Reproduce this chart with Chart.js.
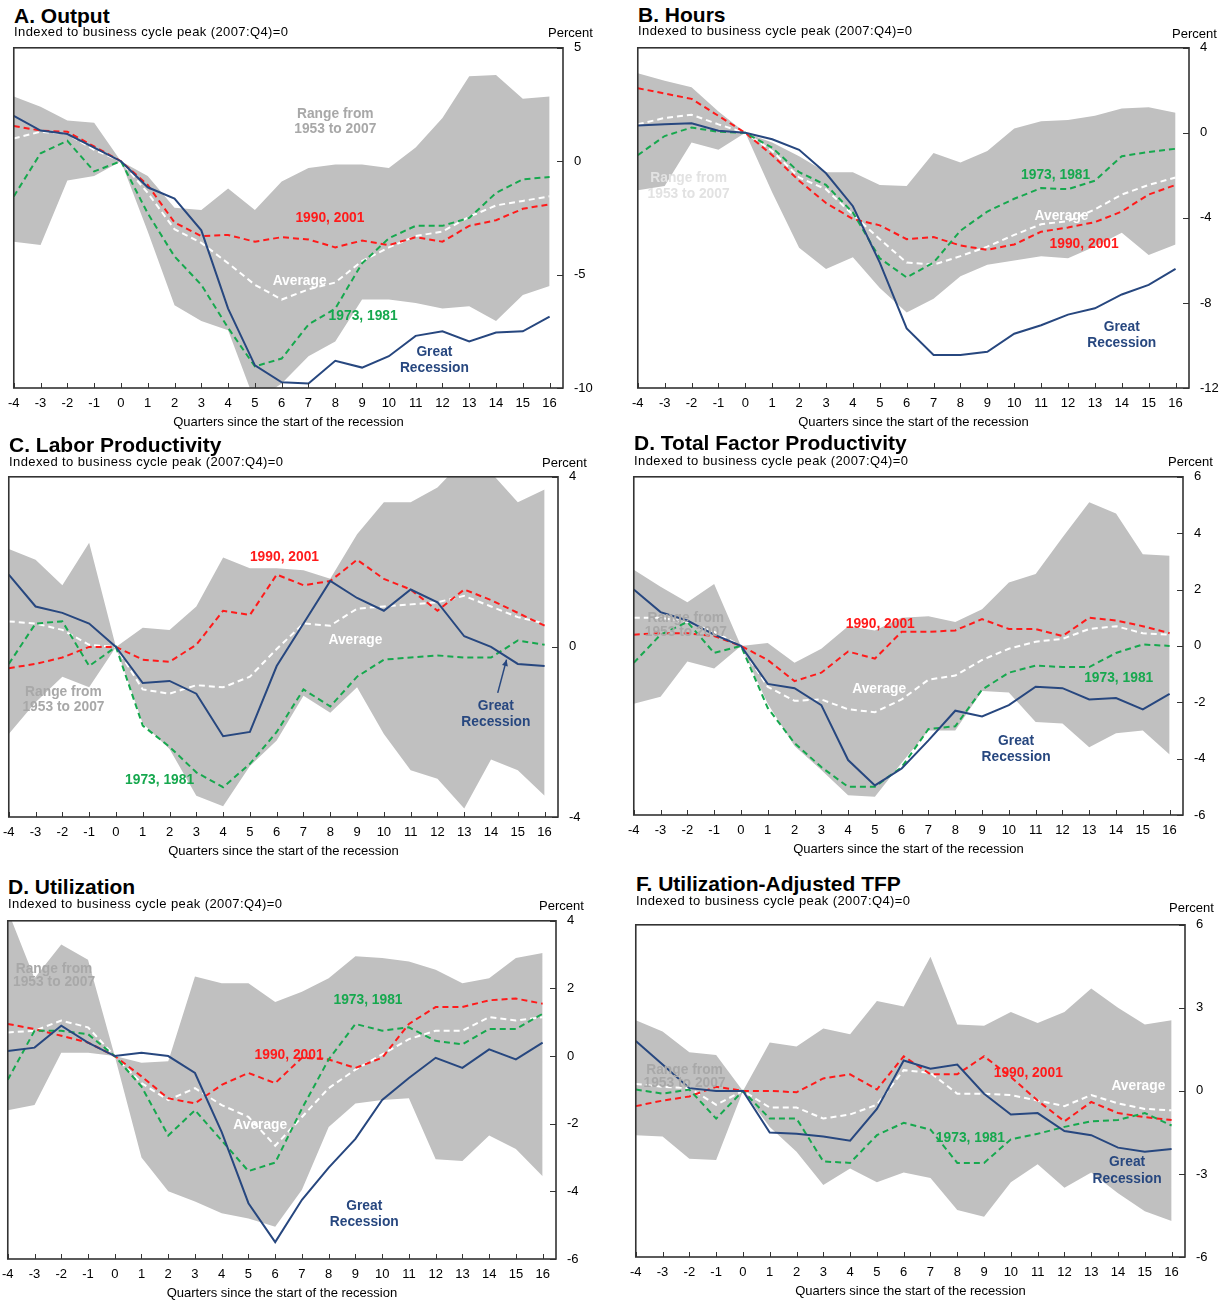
<!DOCTYPE html>
<html>
<head>
<meta charset="utf-8">
<script src="https://cdn.jsdelivr.net/npm/chart.js@4.4.0/dist/chart.umd.min.js"></script>
<style>
  body { margin: 0; background: #fff; width: 1229px; height: 1301px; position: relative; overflow: hidden;
         font-family: "Liberation Sans", Arial, sans-serif; }
  .t { position: absolute; white-space: nowrap; color: #000; }
  .title { font-weight: bold; font-size: 21px; line-height: 22px; }
  .sub { font-size: 13px; line-height: 14px; letter-spacing: 0.4px; }
  .pct { font-size: 13px; line-height: 14px; }
  canvas { position: absolute; }
</style>
</head>
<body>
<script>
// x axis: quarters since the start of the recession
const quarters = [-4, -3, -2, -1, 0, 1, 2, 3, 4, 5, 6, 7, 8, 9, 10, 11, 12, 13, 14, 15, 16];

// A. Output
const outputTicks = [-10, -5, 0, 5];
const outputGreat = [2.0, 1.35, 1.2, 0.6, 0, -1.15, -1.65, -3.05, -6.5, -9.0, -9.75, -9.8, -8.8, -9.1, -8.6, -7.7, -7.5, -7.95, -7.55, -7.5, -6.85];
const output9001 = [1.55, 1.35, 1.3, 0.65, 0, -1.05, -2.7, -3.3, -3.25, -3.55, -3.35, -3.45, -3.8, -3.5, -3.7, -3.35, -3.55, -2.85, -2.6, -2.1, -1.9];
const output7381 = [-1.55, 0.35, 0.9, -0.45, 0, -2.3, -4.2, -5.45, -7.35, -9.05, -8.7, -7.2, -6.5, -4.5, -3.4, -2.85, -2.85, -2.5, -1.4, -0.8, -0.7];
const outputAvg = [1.0, 1.3, 1.2, 0.5, 0, -1.4, -3.0, -3.6, -4.5, -5.45, -6.1, -5.65, -5.35, -4.4, -3.8, -3.3, -3.1, -2.45, -1.95, -1.75, -1.55];
const outputHigh = [2.85, 2.4, 1.8, 1.7, 0, -0.65, -2.05, -2.15, -1.2, -2.15, -0.9, -0.3, -0.15, -0.15, -0.3, 0.6, 1.9, 3.75, 3.8, 2.75, 2.85];
const outputLow = [-3.55, -3.7, -0.85, -0.65, 0, -3.1, -6.35, -7.05, -7.45, -10.6, -9.8, -8.6, -7.95, -6.1, -6.1, -6.25, -6.5, -6.4, -7.05, -5.9, -5.5];

// B. Hours
const hoursTicks = [-12, -8, -4, 0, 4];
const hoursGreat = [0.35, 0.4, 0.45, 0.1, 0, -0.3, -0.8, -1.9, -3.45, -6.1, -9.2, -10.45, -10.45, -10.3, -9.45, -9.05, -8.55, -8.25, -7.6, -7.15, -6.4];
const hours9001 = [2.1, 1.85, 1.6, 0.8, 0, -1.05, -2.25, -3.3, -4.05, -4.35, -5.0, -4.9, -5.3, -5.5, -5.25, -4.65, -4.45, -4.2, -3.7, -2.9, -2.45];
const hours7381 = [-1.05, -0.15, 0.25, 0.05, 0, -0.7, -1.85, -2.45, -3.75, -5.9, -6.8, -6.1, -4.6, -3.7, -3.1, -2.6, -2.65, -2.25, -1.1, -0.9, -0.75];
const hoursAvg = [0.4, 0.7, 0.85, 0.4, 0, -0.85, -2.1, -2.65, -3.85, -5.0, -6.1, -6.2, -5.8, -5.35, -4.8, -4.3, -4.15, -3.6, -2.9, -2.45, -2.1];
const hoursHigh = [2.8, 2.45, 2.15, 1.0, 0, -0.45, -1.1, -1.85, -1.85, -2.45, -2.5, -0.95, -1.4, -0.85, 0.2, 0.55, 0.6, 0.8, 1.15, 1.2, 0.95];
const hoursLow = [-2.7, -2.5, -0.45, -0.8, 0, -2.8, -5.4, -6.4, -5.85, -7.3, -8.45, -7.8, -6.75, -6.2, -6.0, -5.8, -5.9, -5.35, -4.7, -5.75, -5.25];

// C. Labor productivity
const lpTicks = [-4, 0, 4];
const lpGreat = [1.7, 0.95, 0.8, 0.55, 0, -0.85, -0.8, -1.1, -2.1, -2.0, -0.45, 0.55, 1.55, 1.15, 0.85, 1.35, 1.05, 0.25, 0.0, -0.4, -0.45];
const lp9001 = [-0.5, -0.4, -0.25, 0, 0, -0.3, -0.35, 0.05, 0.85, 0.75, 1.7, 1.45, 1.55, 2.05, 1.6, 1.35, 0.85, 1.35, 1.1, 0.8, 0.5];
const lp7381 = [-0.4, 0.55, 0.6, -0.45, 0, -1.85, -2.35, -2.95, -3.3, -2.75, -2.0, -1.0, -1.4, -0.7, -0.3, -0.25, -0.2, -0.25, -0.25, 0.15, 0.05];
const lpAvg = [0.6, 0.55, 0.4, 0.05, 0, -1.0, -1.1, -0.9, -0.95, -0.7, -0.05, 0.55, 0.5, 0.9, 0.95, 1.0, 1.05, 1.2, 0.95, 0.7, 0.55];
const lpHigh = [2.3, 2.05, 1.45, 2.45, 0, 0.45, 0.4, 0.95, 2.1, 1.85, 1.85, 1.8, 1.6, 2.65, 3.4, 3.4, 3.75, 4.4, 4.1, 3.4, 3.7];
const lpLow = [-2.05, -1.3, -0.7, -0.95, 0, -1.8, -2.4, -3.5, -3.75, -2.8, -2.2, -1.15, -1.55, -0.95, -2.05, -2.9, -3.1, -3.8, -2.65, -2.9, -3.5];

// D. Total factor productivity
const tfpTicks = [-6, -4, -2, 0, 2, 4, 6];
const tfpGreat = [2.0, 1.2, 0.9, 0.4, 0, -1.35, -1.5, -2.1, -4.05, -4.95, -4.35, -3.35, -2.3, -2.5, -2.1, -1.45, -1.5, -1.9, -1.85, -2.25, -1.7];
const tfp9001 = [0.4, 0.45, 0.45, 0.35, 0, -0.5, -1.25, -0.95, -0.2, -0.45, 0.5, 0.5, 0.55, 0.95, 0.6, 0.6, 0.35, 1.0, 0.9, 0.7, 0.45];
const tfp7381 = [-0.6, 0.4, 0.85, -0.25, 0, -2.2, -3.45, -4.3, -5.0, -5.0, -4.3, -2.95, -2.85, -1.55, -0.95, -0.7, -0.75, -0.75, -0.25, 0.05, 0.0];
const tfpAvg = [1.0, 1.0, 0.85, 0.5, 0, -1.45, -1.95, -1.9, -2.25, -2.35, -1.9, -1.2, -1.05, -0.5, -0.1, 0.15, 0.25, 0.6, 0.7, 0.45, 0.4];
const tfpHigh = [2.7, 2.1, 1.55, 2.2, 0, 0.1, -0.6, -0.1, 0.7, 0.55, 1.0, 1.05, 0.85, 1.3, 2.25, 2.55, 3.85, 5.1, 4.7, 3.25, 3.2];
const tfpLow = [-2.05, -1.8, -0.55, -0.8, 0, -2.05, -3.55, -4.4, -5.3, -5.35, -4.15, -3.0, -3.0, -1.6, -1.65, -2.7, -2.75, -3.6, -3.1, -3.0, -3.85];

// E. Utilization
const utilTicks = [-6, -4, -2, 0, 2, 4];
const utilGreat = [0.15, 0.25, 0.9, 0.4, 0, 0.1, 0, -0.5, -2.25, -4.35, -5.5, -4.25, -3.3, -2.45, -1.3, -0.65, -0.05, -0.35, 0.2, -0.1, 0.4];
const util9001 = [0.95, 0.8, 0.6, 0.4, 0, -0.6, -1.25, -1.4, -0.85, -0.5, -0.8, -0.05, -0.1, -0.35, -0.05, 0.95, 1.45, 1.45, 1.65, 1.7, 1.55];
const util7381 = [-0.7, 0.75, 0.75, 0.65, 0, -0.9, -2.35, -1.6, -2.5, -3.4, -3.15, -1.55, -0.1, 0.95, 0.75, 0.85, 0.45, 0.35, 0.8, 0.8, 1.25];
const utilAvg = [0.7, 0.75, 1.05, 0.85, 0, -0.8, -1.3, -0.95, -1.45, -1.8, -2.65, -1.8, -0.95, -0.4, 0.05, 0.5, 0.75, 0.75, 1.15, 1.05, 1.15];
const utilHigh = [4.3, 2.3, 3.3, 2.85, 0, -0.2, -0.15, 2.35, 2.15, 2.15, 1.6, 1.9, 2.3, 2.95, 2.9, 2.8, 2.55, 2.15, 2.3, 2.9, 3.05];
const utilLow = [-1.6, -1.45, 0.1, 0.1, 0, -3.0, -4.0, -4.3, -4.65, -4.8, -5.05, -3.95, -2.1, -1.4, -1.3, -1.25, -3.05, -3.1, -2.35, -2.75, -3.55];

// F. Utilization-adjusted TFP
const uTfpTicks = [-6, -3, 0, 3, 6];
const uTfpGreat = [1.8, 0.95, 0.1, 0.0, 0, -1.5, -1.55, -1.65, -1.8, -0.65, 1.1, 0.8, 0.95, -0.1, -0.85, -0.8, -1.45, -1.6, -2.05, -2.2, -2.1];
const uTfp9001 = [-0.55, -0.35, -0.2, 0.15, 0, 0, -0.05, 0.45, 0.6, 0.05, 1.25, 0.6, 0.6, 1.25, 0.5, -0.35, -1.1, -0.4, -0.8, -0.95, -1.05];
const uTfp7381 = [0.05, -0.1, 0.05, -1.0, 0, -1.0, -1.0, -2.55, -2.6, -1.6, -1.15, -1.4, -2.6, -2.6, -1.75, -1.55, -1.3, -1.1, -1.05, -0.8, -1.25];
const uTfpAvg = [0.25, 0.15, 0.1, -0.5, 0, -0.6, -0.6, -1.0, -0.85, -0.5, 0.75, 0.65, -0.1, -0.1, -0.15, -0.35, -0.55, -0.15, -0.45, -0.65, -0.7];
const uTfpHigh = [2.55, 2.15, 1.4, 1.3, 0, 1.75, 1.6, 2.25, 2.05, 3.25, 3.05, 4.85, 2.4, 2.35, 2.85, 2.45, 2.85, 3.7, 3.0, 2.4, 2.55];
const uTfpLow = [-1.6, -1.65, -2.45, -2.5, 0, -1.3, -2.2, -3.4, -2.8, -3.3, -2.95, -3.15, -4.3, -4.55, -3.3, -2.65, -3.5, -2.95, -3.7, -4.35, -4.7];

const FONT = '"Liberation Sans", Arial, sans-serif';
const NAVY = '#27477f';
const RED = '#ff1a1a';
const GREEN = '#16a84e';
const BAND = '#c0c0c0';
const RANGE_TXT = '#a8a8a8';

const panels = [
  { title: 'A. Output', L: 14, R: 563, T: 48, B: 388, titleY: 16, subY: 32, pctX: 548, pctY: 33,
    ticks: outputTicks, great: outputGreat, r: output9001, g: output7381, avg: outputAvg, hi: outputHigh, lo: outputLow,
    notes: [
      ['Range from', 8.0, 2.1, RANGE_TXT], ['1953 to 2007', 8.0, 1.43, RANGE_TXT],
      ['1990, 2001', 7.8, -2.5, RED], ['Average', 6.67, -5.27, '#fff'], ['1973, 1981', 9.04, -6.84, GREEN],
      ['Great', 11.7, -8.4, NAVY], ['Recession', 11.7, -9.1, NAVY]] },
  { title: 'B. Hours', L: 638, R: 1189, T: 48, B: 388, titleY: 15, subY: 31, pctX: 1172, pctY: 34,
    ticks: hoursTicks, great: hoursGreat, r: hours9001, g: hours7381, avg: hoursAvg, hi: hoursHigh, lo: hoursLow,
    notes: [
      ['Range from', -2.11, -2.12, '#e2e2e2'], ['1953 to 2007', -2.11, -2.87, '#e2e2e2'],
      ['1973, 1981', 11.54, -1.96, GREEN], ['Average', 11.76, -3.89, '#fff'], ['1990, 2001', 12.6, -5.2, RED],
      ['Great', 14.0, -9.13, NAVY], ['Recession', 14.0, -9.88, NAVY]] },
  { title: 'C. Labor Productivity', L: 9, R: 558, T: 477, B: 817, titleY: 445, subY: 462, pctX: 542, pctY: 463,
    ticks: lpTicks, great: lpGreat, r: lp9001, g: lp7381, avg: lpAvg, hi: lpHigh, lo: lpLow,
    notes: [
      ['Range from', -1.96, -1.06, RANGE_TXT], ['1953 to 2007', -1.96, -1.41, RANGE_TXT],
      ['1990, 2001', 6.29, 2.12, RED], ['Average', 8.94, 0.17, '#fff'], ['1973, 1981', 1.63, -3.12, GREEN],
      ['Great', 14.18, -1.38, NAVY], ['Recession', 14.18, -1.76, NAVY]],
    arrow: [14.25, -1.08, 14.58, -0.3] },
  { title: 'D. Total Factor Productivity', L: 634, R: 1183, T: 477, B: 815, titleY: 443, subY: 461, pctX: 1168, pctY: 462,
    ticks: tfpTicks, great: tfpGreat, r: tfp9001, g: tfp7381, avg: tfpAvg, hi: tfpHigh, lo: tfpLow,
    notes: [
      ['Range from', -2.06, 0.98, RANGE_TXT], ['1953 to 2007', -2.06, 0.51, RANGE_TXT],
      ['1990, 2001', 5.2, 0.77, RED], ['Average', 5.16, -1.52, '#fff'], ['1973, 1981', 14.1, -1.15, GREEN],
      ['Great', 10.27, -3.37, NAVY], ['Recession', 10.27, -3.95, NAVY]] },
  { title: 'D. Utilization', L: 8, R: 556, T: 921, B: 1259, titleY: 887, subY: 904, pctX: 539, pctY: 906,
    ticks: utilTicks, great: utilGreat, r: util9001, g: util7381, avg: utilAvg, hi: utilHigh, lo: utilLow,
    notes: [
      ['Range from', -2.27, 2.59, RANGE_TXT], ['1953 to 2007', -2.27, 2.18, RANGE_TXT],
      ['1973, 1981', 9.47, 1.67, GREEN], ['1990, 2001', 6.52, 0.03, RED], ['Average', 5.44, -2.04, '#fff'],
      ['Great', 9.33, -4.43, NAVY], ['Recession', 9.33, -4.91, NAVY]] },
  { title: 'F. Utilization-Adjusted TFP', L: 636, R: 1185, T: 925, B: 1257, titleY: 884, subY: 901, pctX: 1169, pctY: 908,
    ticks: uTfpTicks, great: uTfpGreat, r: uTfp9001, g: uTfp7381, avg: uTfpAvg, hi: uTfpHigh, lo: uTfpLow,
    notes: [
      ['Range from', -2.18, 0.76, RANGE_TXT], ['1953 to 2007', -2.18, 0.28, RANGE_TXT],
      ['1990, 2001', 10.65, 0.66, RED], ['Average', 14.76, 0.18, '#fff'], ['1973, 1981', 8.49, -1.71, GREEN],
      ['Great', 14.34, -2.58, NAVY], ['Recession', 14.34, -3.16, NAVY]] }
];

function addText(cls, text, left, cy, lh) {
  const d = document.createElement('div');
  d.className = 't ' + cls;
  d.textContent = text;
  d.style.left = left + 'px';
  d.style.top = (cy - lh / 2) + 'px';
  document.body.appendChild(d);
}

function makePanel(p) {
  const axisW = 46, axisH = 46;
  const w = p.R - p.L, h = p.B - p.T;
  const cv = document.createElement('canvas');
  cv.width = w + axisW + 20; cv.height = h + axisH + 20;
  document.body.appendChild(cv);

  addText('title', p.title, p.L, p.titleY, 22);
  addText('sub', 'Indexed to business cycle peak (2007:Q4)=0', p.L, p.subY, 14);
  addText('pct', 'Percent', p.pctX, p.pctY, 14);

  // labels, inner tick marks, frame and axis title
  const decor = {
    id: 'decor',
    afterDatasetsDraw(chart) {
      const { ctx, chartArea: a, scales: { x, y } } = chart;
      ctx.save();
      ctx.textAlign = 'center';
      ctx.textBaseline = 'middle';
      ctx.font = 'bold 15px ' + FONT;
      p.notes.forEach(([txt, nx, ny, col]) => {
        ctx.save();
        ctx.translate(x.getPixelForValue(nx), y.getPixelForValue(ny));
        ctx.scale(0.92, 1);
        ctx.fillStyle = col;
        ctx.fillText(txt, 0, 0);
        ctx.restore();
      });

      if (p.arrow) {
        const x0 = x.getPixelForValue(p.arrow[0]), y0 = y.getPixelForValue(p.arrow[1]);
        const x1 = x.getPixelForValue(p.arrow[2]), y1 = y.getPixelForValue(p.arrow[3]);
        const ang = Math.atan2(y1 - y0, x1 - x0);
        ctx.strokeStyle = NAVY; ctx.fillStyle = NAVY; ctx.lineWidth = 1.5;
        ctx.beginPath(); ctx.moveTo(x0, y0); ctx.lineTo(x1, y1); ctx.stroke();
        ctx.beginPath();
        ctx.moveTo(x1, y1);
        ctx.lineTo(x1 - 7 * Math.cos(ang - 0.45), y1 - 7 * Math.sin(ang - 0.45));
        ctx.lineTo(x1 - 7 * Math.cos(ang + 0.45), y1 - 7 * Math.sin(ang + 0.45));
        ctx.closePath(); ctx.fill();
      }

      ctx.strokeStyle = '#333';
      ctx.lineWidth = 1;
      x.ticks.forEach(t => {
        const px = Math.round(x.getPixelForValue(t.value)) + 0.5;
        ctx.beginPath(); ctx.moveTo(px, a.bottom); ctx.lineTo(px, a.bottom - 5); ctx.stroke();
      });
      y.ticks.forEach(t => {
        const py = Math.round(y.getPixelForValue(t.value)) + 0.5;
        ctx.beginPath(); ctx.moveTo(a.right, py); ctx.lineTo(a.right - 6, py); ctx.stroke();
      });
      ctx.lineWidth = 1.6;
      ctx.strokeRect(a.left, a.top, a.right - a.left, a.bottom - a.top);

      ctx.fillStyle = '#000';
      ctx.font = '13px ' + FONT;
      ctx.fillText('Quarters since the start of the recession', (a.left + a.right) / 2, a.bottom + 34);
      ctx.restore();
    }
  };

  const line = (data, color, dashed) => ({
    data, borderColor: color, borderWidth: 2, borderDash: dashed ? [6, 4] : [],
    pointRadius: 0, fill: false, tension: 0
  });

  const chart = new Chart(cv.getContext('2d'), {
    type: 'line',
    data: {
      labels: quarters,
      datasets: [
        line(p.great, NAVY, false),
        line(p.g, GREEN, true),
        line(p.r, RED, true),
        line(p.avg, '#ffffff', true),
        { data: p.hi, borderColor: 'rgba(0,0,0,0)', borderWidth: 0, pointRadius: 0, backgroundColor: BAND, fill: '+1' },
        { data: p.lo, borderColor: 'rgba(0,0,0,0)', borderWidth: 0, pointRadius: 0, fill: false }
      ]
    },
    options: {
      responsive: false,
      maintainAspectRatio: false,
      animation: false,
      events: [],
      layout: { padding: 0 },
      plugins: { legend: { display: false }, tooltip: { enabled: false } },
      scales: {
        x: {
          type: 'linear', min: -4, max: 16.5,
          grid: { display: false, drawTicks: false }, border: { display: false },
          afterBuildTicks: s => { s.ticks = quarters.map(v => ({ value: v })); },
          afterFit: s => { s.height = axisH; },
          ticks: { padding: 8, color: '#000', font: { family: FONT, size: 13 }, maxRotation: 0, autoSkip: false,
                   callback: v => String(v) }
        },
        y: {
          type: 'linear', position: 'right', min: p.ticks[0], max: p.ticks[p.ticks.length - 1],
          grid: { display: false, drawTicks: false }, border: { display: false },
          afterBuildTicks: s => { s.ticks = p.ticks.map(v => ({ value: v })); },
          afterFit: s => { s.width = axisW; },
          ticks: { padding: 11, color: '#000', font: { family: FONT, size: 13 }, callback: v => String(v) }
        }
      }
    },
    plugins: [decor]
  });

  // size the canvas so the plot area lands exactly on the panel box
  const offL = chart.chartArea.left, offT = chart.chartArea.top;
  chart.resize(Math.round(offL + w + axisW), Math.round(offT + h + axisH));
  const a = chart.chartArea;
  cv.style.left = (p.L - a.left) + 'px';
  cv.style.top = (p.T - a.top) + 'px';
}

panels.forEach(makePanel);
</script>
</body>
</html>
